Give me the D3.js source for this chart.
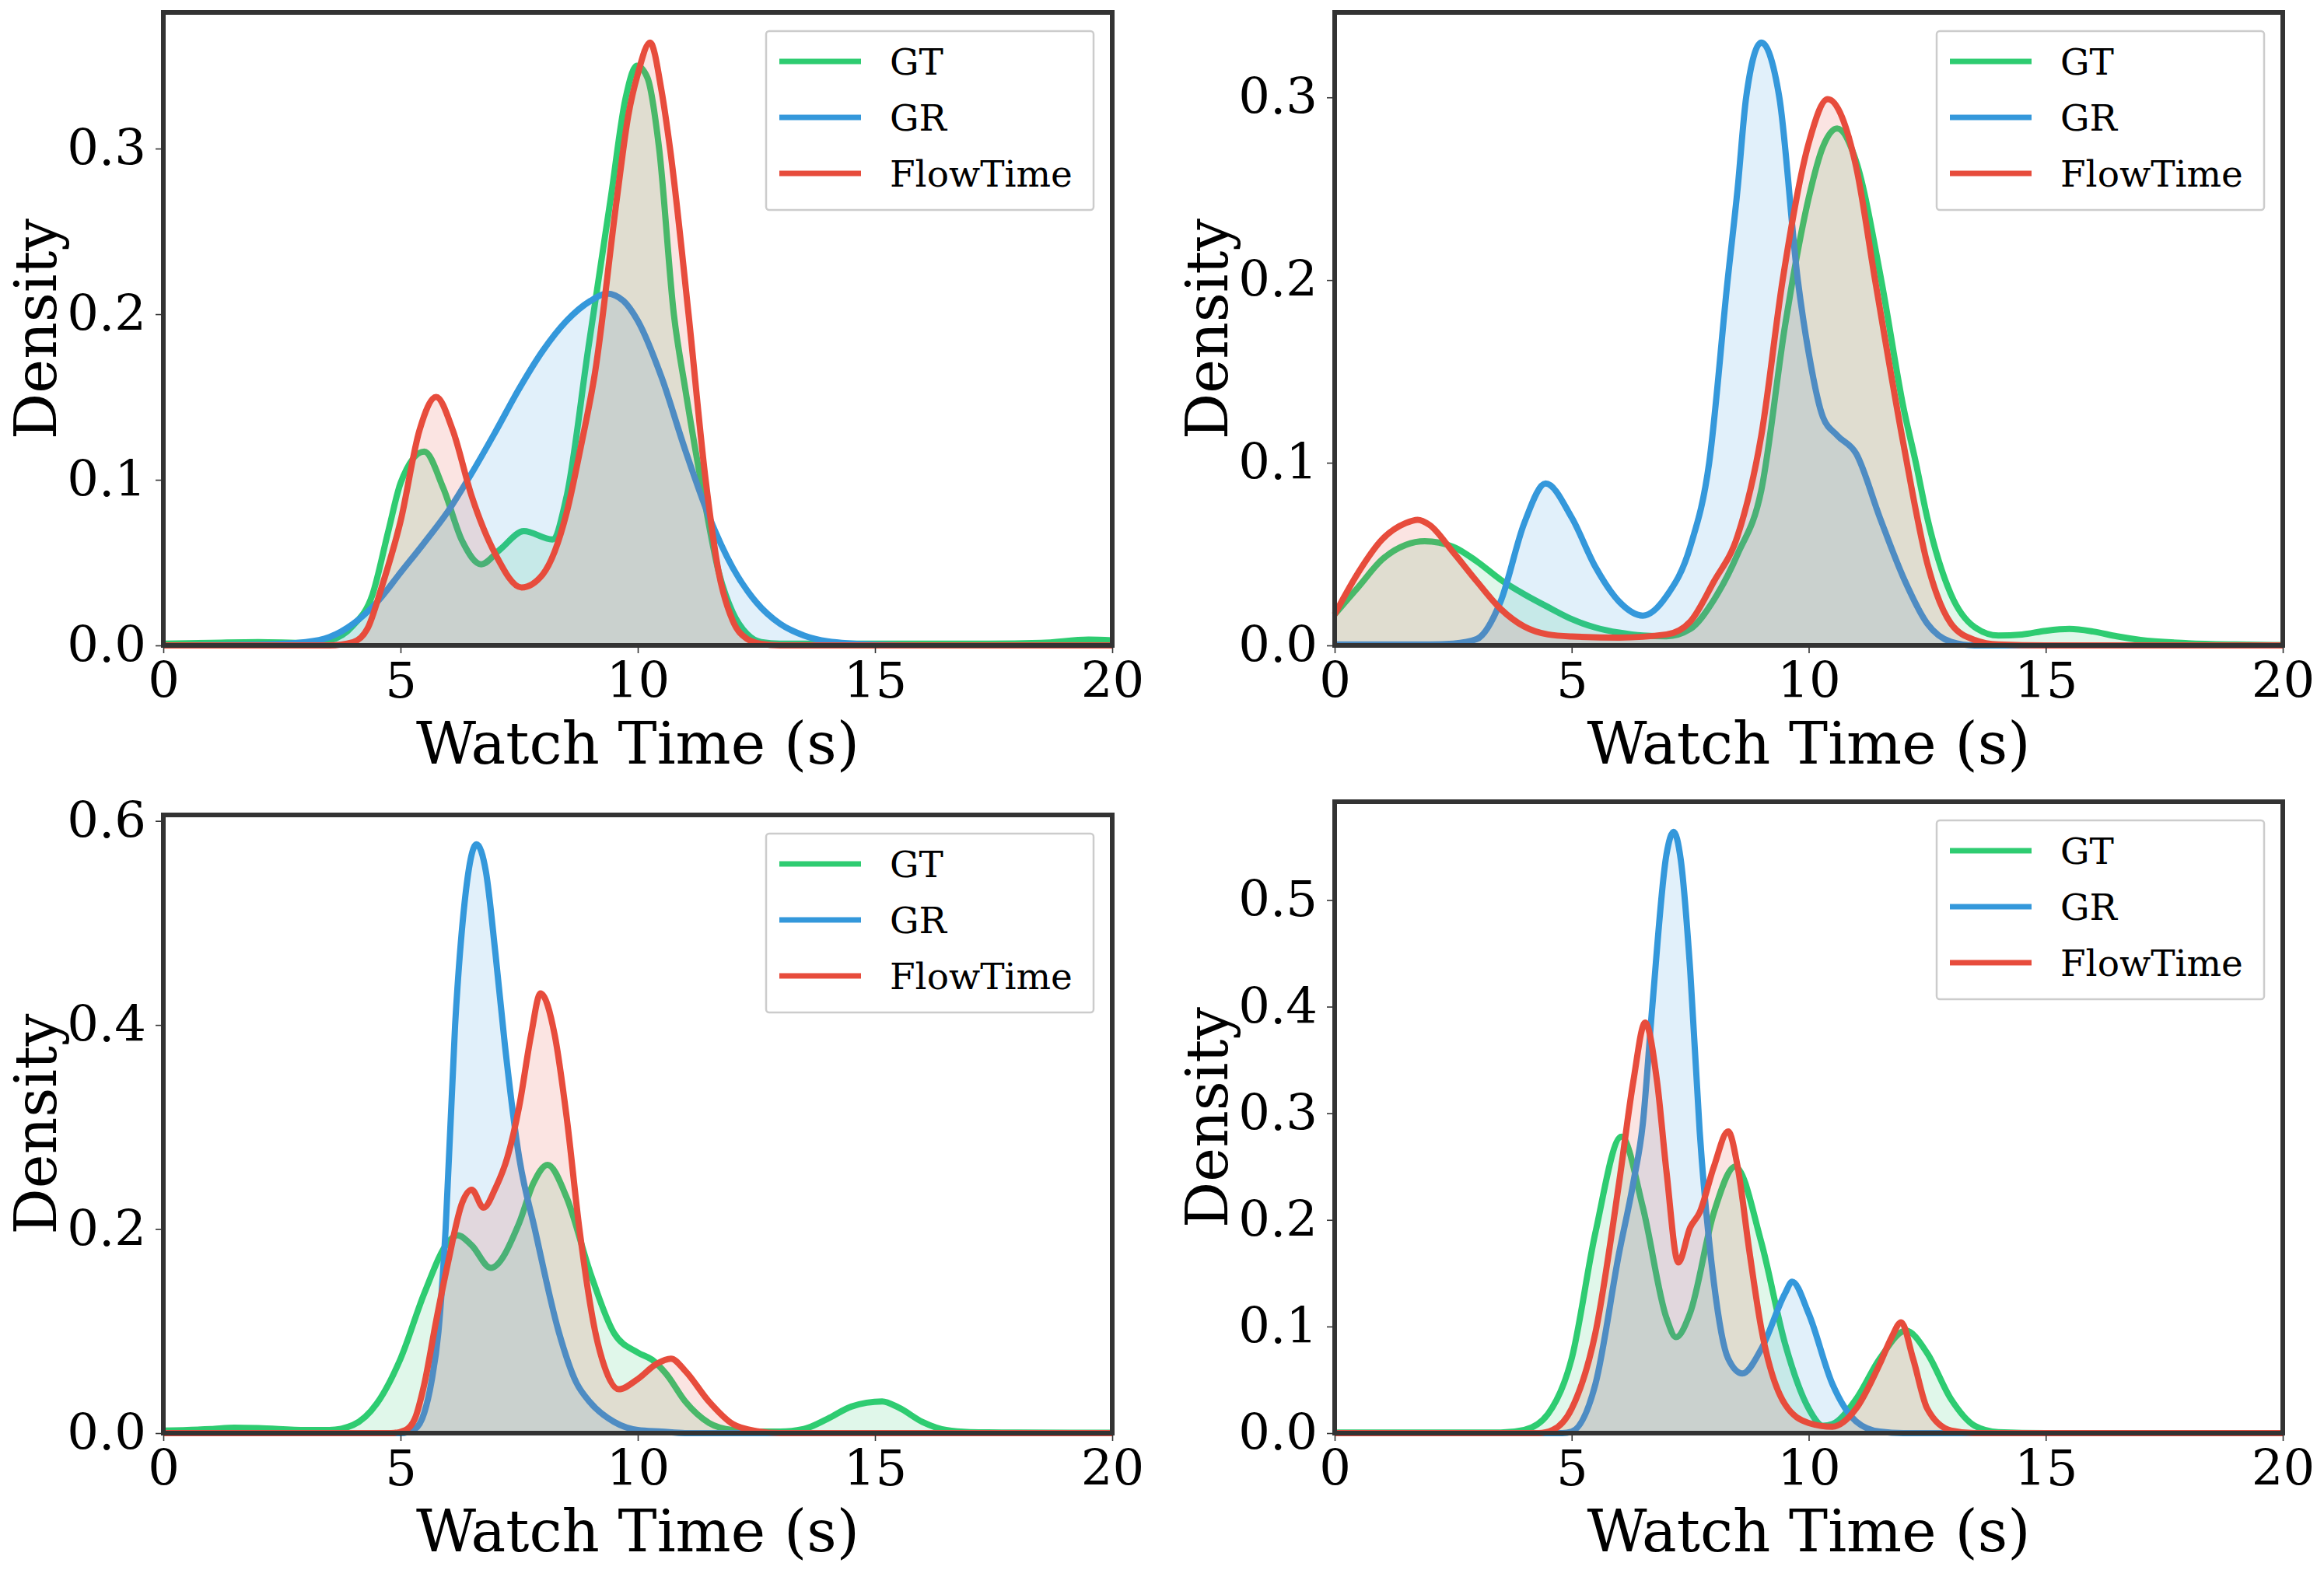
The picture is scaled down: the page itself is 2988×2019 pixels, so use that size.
<!DOCTYPE html>
<html>
<head>
<meta charset="utf-8">
<script src="https://cdn.jsdelivr.net/npm/d3@7"></script>
<style>
	html, body { margin: 0; padding: 0; background: #fff; }
	svg { display: block; font-family: 'DejaVu Serif', serif; }
</style>
</head>
<body>
<svg id="chart" width="2988" height="2019"></svg>
<script>
const seriesNames = ['GT', 'GR', 'FlowTime']
const seriesColors = ['#2ecc71', '#3498db', '#e74c3c']
const xTicks = [0, 5, 10, 15, 20]
const xLabel = 'Watch Time (s)'
const yLabel = 'Density'

// [watch time, density]
const topLeftGT = [[0,0.001],[1,0.0015],[2,0.002],[3,0.0015],[3.5,0.003],[4,0.012],[4.4,0.03],[4.75,0.07],[5,0.098],[5.5,0.117],[5.9,0.095],[6.3,0.063],[6.7,0.049],[7.1,0.058],[7.6,0.069],[8.2,0.064],[8.5,0.09],[8.96,0.18],[9.43,0.27],[9.74,0.33],[9.98,0.35],[10.2,0.343],[10.45,0.3],[10.76,0.2],[11,0.155],[11.39,0.09],[11.7,0.045],[12,0.02],[12.3,0.007],[12.6,0.002],[13,0.001],[17,0.001],[18.5,0.0015],[19.5,0.0035],[20,0.003]]
const topLeftGR = [[0,0],[2,0.0005],[3,0.002],[3.5,0.005],[4,0.013],[4.5,0.026],[5,0.044],[5.5,0.062],[6,0.081],[6.5,0.104],[7,0.129],[7.5,0.155],[8,0.178],[8.5,0.196],[9,0.208],[9.35,0.2125],[9.7,0.208],[10,0.196],[10.5,0.162],[11,0.118],[11.5,0.078],[12,0.047],[12.5,0.026],[13,0.013],[13.5,0.006],[14,0.0025],[15,0.0005],[16,0],[20,0]]
const topLeftFT = [[0,0],[3.5,0],[4,0.002],[4.3,0.01],[4.6,0.035],[5,0.075],[5.4,0.13],[5.75,0.15],[6.1,0.13],[6.5,0.09],[7,0.055],[7.55,0.035],[8,0.043],[8.5,0.08],[8.8,0.12],[9.1,0.165],[9.56,0.27],[9.8,0.32],[10,0.345],[10.26,0.364],[10.5,0.335],[10.68,0.3],[11.07,0.2],[11.43,0.1],[11.7,0.045],[12,0.015],[12.3,0.004],[12.6,0.001],[13,0],[20,0]]

const topRightGT = [[0,0.017],[0.5,0.032],[1,0.047],[1.5,0.055],[1.9,0.057],[2.5,0.054],[3,0.046],[3.5,0.036],[4,0.028],[4.5,0.021],[5,0.0144],[5.5,0.0098],[6,0.007],[6.5,0.0054],[7,0.005],[7.5,0.009],[8,0.025],[8.5,0.05],[9,0.085],[9.5,0.175],[9.66,0.2],[10,0.245],[10.3,0.273],[10.6,0.283],[11,0.265],[11.53,0.2],[12,0.13],[12.26,0.1],[12.5,0.07],[13,0.028],[13.5,0.01],[14,0.0054],[14.5,0.006],[15,0.008],[15.5,0.009],[16,0.0076],[16.5,0.005],[17,0.003],[18,0.0012],[19,0.0005],[20,0.0002]]
const topRightGR = [[0,0.0005],[2,0.0005],[2.5,0.001],[3,0.0035],[3.5,0.024],[4,0.067],[4.45,0.0886],[5,0.07],[5.5,0.043],[6,0.024],[6.5,0.0163],[7,0.027],[7.5,0.054],[7.9,0.1],[8.29,0.2],[8.5,0.25],[8.68,0.3],[9,0.33],[9.38,0.3],[9.77,0.2],[10,0.16],[10.3,0.125],[10.6,0.115],[11,0.105],[11.5,0.07],[12,0.037],[12.5,0.012],[13,0.002],[13.5,0],[20,0]]
const topRightFT = [[0,0.017],[0.5,0.04],[1,0.058],[1.5,0.067],[1.75,0.0688],[2,0.066],[2.5,0.051],[3,0.035],[3.5,0.02],[4,0.0103],[4.5,0.006],[5,0.0049],[6,0.0043],[7,0.006],[7.5,0.013],[8,0.035],[8.5,0.06],[9,0.115],[9.45,0.2],[10,0.275],[10.4,0.299],[11,0.262],[11.4,0.2],[12,0.11],[12.5,0.045],[13,0.012],[13.5,0.003],[14,0.0005],[15,0],[20,0]]

const bottomLeftGT = [[0,0.0025],[1,0.004],[1.5,0.0054],[2,0.005],[3,0.003],[3.5,0.003],[4,0.008],[4.5,0.029],[5,0.073],[5.5,0.137],[6,0.187],[6.2,0.194],[6.5,0.184],[6.9,0.162],[7.5,0.206],[7.8,0.245],[8.1,0.263],[8.5,0.231],[9,0.157],[9.5,0.098],[10,0.079],[10.3,0.072],[10.6,0.058],[11,0.031],[11.5,0.01],[12,0.003],[12.5,0.0015],[13,0.0015],[13.5,0.004],[14,0.014],[14.5,0.026],[15.15,0.031],[15.5,0.025],[16,0.011],[16.5,0.003],[17,0.001],[18,0.0005],[20,0.0003]]
const bottomLeftGR = [[0,0],[5,0],[5.3,0.004],[5.5,0.02],[5.65,0.05],[5.8,0.1],[5.95,0.2],[6.15,0.4],[6.35,0.52],[6.6,0.577],[6.8,0.55],[7,0.47],[7.2,0.38],[7.5,0.27],[7.83,0.2],[8.33,0.1],[8.7,0.05],[9,0.03],[9.5,0.011],[10,0.003],[10.5,0.0015],[11,0],[20,0]]
const bottomLeftFT = [[0,0],[4.8,0],[5.1,0.003],[5.3,0.014],[5.5,0.048],[5.75,0.11],[6,0.167],[6.3,0.226],[6.5,0.2385],[6.75,0.221],[7,0.24],[7.25,0.27],[7.5,0.32],[7.75,0.39],[7.95,0.431],[8.25,0.39],[8.5,0.31],[8.77,0.2],[9.1,0.1],[9.3,0.065],[9.6,0.043],[10,0.053],[10.4,0.068],[10.7,0.073],[11,0.061],[11.5,0.031],[12,0.009],[12.5,0.002],[13,0],[20,0]]

const bottomRightGT = [[0,0.0005],[3.5,0.0005],[4,0.003],[4.5,0.018],[5,0.07],[5.5,0.188],[6.05,0.278],[6.5,0.212],[7,0.108],[7.2,0.09],[7.5,0.113],[8,0.207],[8.45,0.25],[9,0.179],[9.5,0.084],[10,0.023],[10.3,0.007],[10.5,0.0085],[11,0.032],[11.5,0.07],[12.05,0.096],[12.5,0.075],[13,0.032],[13.5,0.007],[14,0.001],[15,0],[20,0]]
const bottomRightGR = [[0,0],[4.8,0],[5,0.0014],[5.5,0.046],[6,0.169],[6.3,0.235],[6.5,0.29],[6.7,0.4],[7,0.543],[7.15,0.564],[7.3,0.538],[7.5,0.434],[7.7,0.283],[8,0.141],[8.3,0.07],[8.6,0.056],[9,0.079],[9.5,0.131],[9.65,0.142],[10,0.112],[10.5,0.046],[11,0.011],[11.5,0.0014],[12,0],[20,0]]
const bottomRightFT = [[0,0],[4.3,0],[4.6,0.003],[5,0.023],[5.5,0.094],[6,0.235],[6.3,0.33],[6.55,0.385],[6.8,0.33],[7,0.245],[7.25,0.16],[7.5,0.193],[7.7,0.207],[8,0.25],[8.3,0.283],[8.5,0.25],[8.75,0.17],[9,0.098],[9.5,0.027],[10,0.0095],[10.5,0.006],[11,0.023],[11.5,0.065],[11.75,0.09],[11.95,0.104],[12.2,0.07],[12.5,0.023],[13,0.0025],[13.5,0],[20,0]]

const topYTicks = [0, 0.1, 0.2, 0.3]
const bottomLeftYTicks = [0, 0.2, 0.4, 0.6]
const bottomRightYTicks = [0, 0.1, 0.2, 0.3, 0.4, 0.5]

const panels = [
	{box: {left: 210, right: 1430, top: 16, bottom: 830}, series: [topLeftGT, topLeftGR, topLeftFT], yTicks: topYTicks},
	{box: {left: 1716, right: 2935, top: 16, bottom: 830}, series: [topRightGT, topRightGR, topRightFT], yTicks: topYTicks},
	{box: {left: 210, right: 1430, top: 1048, bottom: 1843}, series: [bottomLeftGT, bottomLeftGR, bottomLeftFT], yTicks: bottomLeftYTicks},
	{box: {left: 1716, right: 2935, top: 1031, bottom: 1843}, series: [bottomRightGT, bottomRightGR, bottomRightFT], yTicks: bottomRightYTicks}
]

const svg = d3.select('#chart')

function drawPanel({box, series, yTicks})
{
	const x = d3.scaleLinear().domain([0, 20]).range([box.left, box.right])
	const yMax = d3.max(series.flat(), d => d[1]) * 1.05
	const y = d3.scaleLinear().domain([0, yMax]).range([box.bottom, box.top])
	const g = svg.append('g')

	const area = d3.area().curve(d3.curveMonotoneX)
		.x(d => x(d[0])).y0(y(0)).y1(d => y(d[1]))
	const line = d3.line().curve(d3.curveMonotoneX)
		.x(d => x(d[0])).y(d => y(d[1]))

	series.forEach((pts, i) => {
		g.append('path').attr('d', area(pts))
			.attr('fill', seriesColors[i]).attr('fill-opacity', 0.15)
		g.append('path').attr('d', line(pts))
			.attr('fill', 'none').attr('stroke', seriesColors[i])
			.attr('stroke-width', 8).attr('stroke-linejoin', 'round')
	})

	const xAxis = d3.axisBottom(x).tickValues(xTicks).tickSize(10).tickPadding(12)
	const yAxis = d3.axisLeft(y).tickValues(yTicks).tickSize(10).tickPadding(12).tickFormat(d3.format('.1f'))

	for (const [axis, transform] of [[xAxis, `translate(0,${box.bottom})`], [yAxis, `translate(${box.left},0)`]]) {
		const a = g.append('g').attr('transform', transform).call(axis)
		a.select('.domain').remove()
		a.selectAll('line').attr('stroke', '#333').attr('stroke-width', 1.6)
		a.selectAll('text').attr('fill', '#000').style('font-size', '64px').style('font-family', "'DejaVu Serif', serif")
	}

	// spines on top of the curves
	g.append('rect')
		.attr('x', box.left).attr('y', box.top)
		.attr('width', box.right - box.left).attr('height', box.bottom - box.top)
		.attr('fill', 'none').attr('stroke', '#333').attr('stroke-width', 6)

	g.append('text')
		.attr('x', (box.left + box.right) / 2).attr('y', box.bottom + 152)
		.attr('text-anchor', 'middle').style('font-size', '75px')
		.text(xLabel)
	g.append('text')
		.attr('transform', `translate(${box.left - 138},${(box.top + box.bottom) / 2}) rotate(-90)`)
		.attr('text-anchor', 'middle').style('font-size', '74px')
		.text(yLabel)

	const legW = 421, legH = 230
	const leg = g.append('g').attr('transform', `translate(${box.right - 24 - legW},${box.top + 24})`)
	leg.append('rect').attr('width', legW).attr('height', legH).attr('rx', 4)
		.attr('fill', '#fff').attr('fill-opacity', 0.8)
		.attr('stroke', '#ccc').attr('stroke-width', 2.5)
	seriesNames.forEach((name, i) => {
		const rowY = 39 + i * 72
		leg.append('line').attr('x1', 17).attr('x2', 122).attr('y1', rowY).attr('y2', rowY)
			.attr('stroke', seriesColors[i]).attr('stroke-width', 7)
		leg.append('text').attr('x', 159).attr('y', rowY).attr('dy', '0.36em')
			.style('font-size', '47px').text(name)
	})
}

panels.forEach(drawPanel)
</script>
</body>
</html>
